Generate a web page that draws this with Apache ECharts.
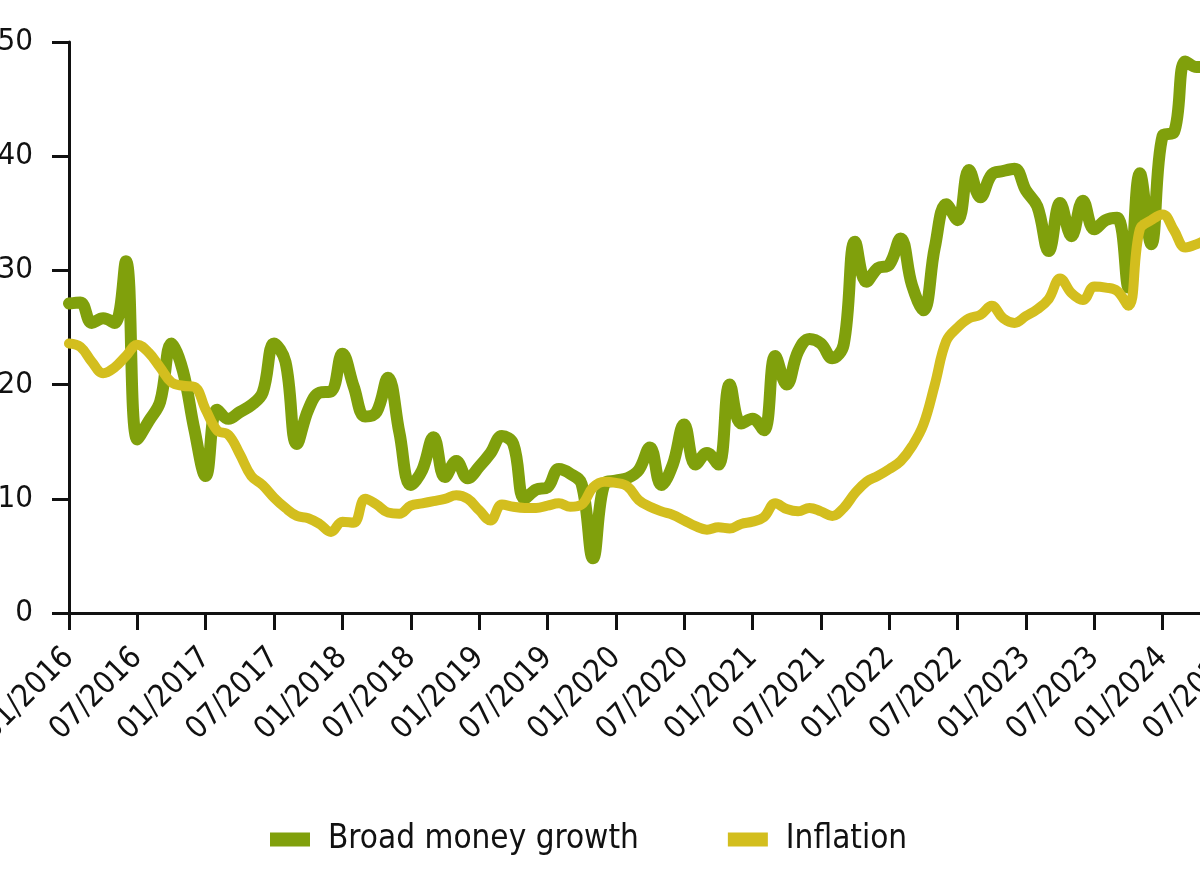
<!DOCTYPE html>
<html>
<head>
<meta charset="utf-8">
<script src="https://cdn.jsdelivr.net/npm/echarts@6/dist/echarts.min.js"></script>
<style>
html,body{margin:0;padding:0;background:#fff;}
#chart{width:1200px;height:888px;}
</style>
</head>
<body>
<div id="chart"></div>
<script>
// Monthly categories 01/2016 .. 07/2024
const years = [2016, 2017, 2018, 2019, 2020, 2021, 2022, 2023, 2024];
const months = ['01','02','03','04','05','06','07','08','09','10','11','12'];
const categories = [];
years.forEach(y => months.forEach(m => {
  if (categories.length < 103) categories.push(m + '/' + y);
}));

const seriesNames = ['Broad money growth', 'Inflation'];

// Broad money growth (%), monthly from 01/2016
const broadMoney = [
  27.1, 27.2, 25.4, 25.8, 25.4, 30.8, 15.2, 16.8, 18.5, 23.6, 21.2, 16.1,
  12.0, 17.8, 17.0, 17.6, 18.2, 19.3, 23.6, 22.0, 14.8, 17.8, 19.3, 19.4,
  22.7, 19.8, 17.2, 17.6, 20.6, 15.8, 11.2, 12.5, 15.4, 11.9, 13.3, 11.8,
  12.8, 14.0, 15.5, 14.8, 10.0, 10.8, 11.0, 12.6, 12.2, 11.3, 4.8, 11.3,
  11.6, 11.8, 12.5, 14.5, 11.2, 13.0, 16.5, 13.0, 14.0, 13.0, 20.0, 16.6,
  17.0, 16.0, 22.5, 20.0, 22.9, 24.0, 23.6, 22.3, 23.5, 32.5, 29.0, 30.2,
  30.5, 32.8, 28.7, 26.5, 32.0, 35.8, 34.4, 38.8, 36.4, 38.4, 38.7, 38.9,
  37.0, 35.6, 31.7, 35.9, 33.0, 36.1, 33.6, 34.4, 34.6, 28.5, 38.5, 32.3,
  41.8, 42.1, 48.3, 47.8, 47.8
];

// Inflation (%), monthly from 01/2016
const inflation = [
  23.6, 23.3, 22.0, 21.0, 21.5, 22.5, 23.5, 22.8, 21.5, 20.2, 19.9, 19.8,
  17.8, 16.0, 15.6, 13.9, 12.0, 11.2, 10.1, 9.2, 8.5, 8.3, 7.8, 7.1,
  8.0, 7.9, 10.0, 9.5, 8.8, 8.7, 9.4, 9.6, 9.8, 10.0, 10.3, 10.0,
  9.0, 8.1, 9.5, 9.3, 9.2, 9.2, 9.4, 9.6, 9.3, 9.5, 11.0, 11.5,
  11.4, 11.1, 9.9, 9.3, 8.9, 8.6, 8.1, 7.6, 7.3, 7.5, 7.4, 7.8,
  8.0, 8.4, 9.6, 9.1, 8.9, 9.2, 8.9, 8.5, 9.2, 10.5, 11.5, 12.0,
  12.6, 13.3, 14.6, 16.5, 20.0, 23.8, 25.0, 25.8, 26.1, 26.9, 25.8, 25.4,
  26.0, 26.6, 27.5, 29.3, 28.0, 27.4, 28.6, 28.5, 28.2, 26.9, 33.6, 34.4,
  34.9, 33.5, 32.0, 32.3, 32.8
];

const yTicks = [0, 10, 20, 30, 40, 50];

const FONT = '"Liberation Sans Narrow", "DejaVu Sans Condensed", "Roboto", sans-serif';
const GREEN = '#80a00c';
const YELLOW = '#d3be1e';

const chart = echarts.init(document.getElementById('chart'), null, {renderer: 'canvas'});
chart.setOption({
  animation: false,
  backgroundColor: '#fff',
  grid: {left: 69, top: 42, width: 1162, height: 571, containLabel: false, outerBoundsMode: 'none'},
  legend: {
    data: seriesNames,
    bottom: 27,
    left: 265,
    icon: 'rect',
    itemWidth: 40,
    itemHeight: 14,
    itemGap: 89,
    textStyle: {fontFamily: FONT, fontSize: 33, color: '#111', padding: [0, 0, 0, 13]}
  },
  xAxis: {
    type: 'category',
    data: categories,
    boundaryGap: false,
    axisLine: {lineStyle: {color: '#111', width: 3}},
    axisTick: {show: true, interval: 5, length: 17, lineStyle: {color: '#111', width: 3}},
    axisLabel: {
      interval: 5, rotate: 45, margin: 40,
      fontFamily: FONT, fontSize: 31, color: '#111'
    },
    splitLine: {show: false}
  },
  yAxis: {
    type: 'value',
    min: yTicks[0], max: yTicks[yTicks.length - 1], interval: 10,
    axisLine: {show: true, lineStyle: {color: '#111', width: 3}},
    axisTick: {show: true, length: 17, lineStyle: {color: '#111', width: 3}},
    axisLabel: {margin: 36, fontFamily: FONT, fontSize: 31, color: '#111'},
    splitLine: {show: false}
  },
  series: [
    {
      name: seriesNames[0], type: 'line', data: broadMoney,
      smooth: 0.4, showSymbol: false, symbol: 'none',
      lineStyle: {color: GREEN, width: 12, cap: 'round', join: 'round'},
      itemStyle: {color: GREEN}
    },
    {
      name: seriesNames[1], type: 'line', data: inflation,
      smooth: 0.4, showSymbol: false, symbol: 'none',
      lineStyle: {color: YELLOW, width: 10, cap: 'round', join: 'round'},
      itemStyle: {color: YELLOW}
    }
  ]
});
</script>
</body>
</html>
